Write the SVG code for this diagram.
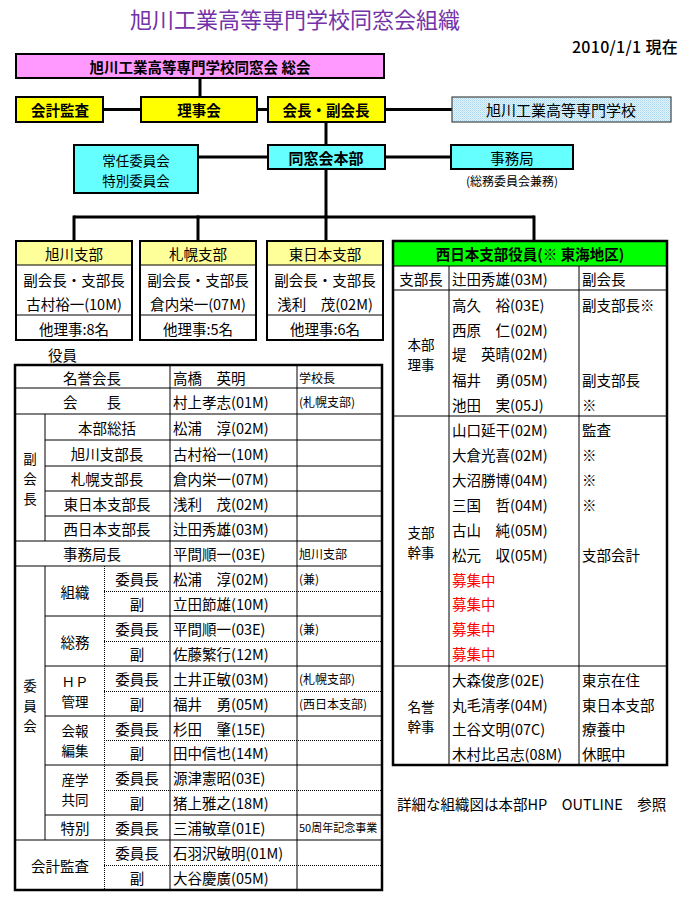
<svg xmlns="http://www.w3.org/2000/svg" width="683" height="902" viewBox="0 0 683 902">
<style>
text{font-family:"Noto Sans CJK JP","Liberation Sans",sans-serif;font-size:14.5px;dominant-baseline:central;fill:#000}
.c{text-anchor:middle}
.e{text-anchor:end}
.b{font-weight:bold}
.s{font-size:12px}
.xs{font-size:11px}
.st{font-size:13.5px}
.red{fill:#FF0000}
.box{stroke:#000;stroke-width:2}
.conn{stroke:#000;stroke-width:3;fill:none}
.ln{stroke:#000;stroke-width:1;fill:none}
.dot{stroke:#000;stroke-width:1;stroke-dasharray:1 1;fill:none}
.frame{stroke:#000;stroke-width:2.5;fill:none}
</style>
<defs>
<pattern id="stip" width="2" height="2" patternUnits="userSpaceOnUse">
<rect width="2" height="2" fill="#E4F4FC"/>
<rect width="1" height="1" fill="#A8D4EC"/>
<rect x="1" y="1" width="1" height="1" fill="#C4E4F4"/>
</pattern>
</defs>
<rect width="683" height="902" fill="#fff"/>
<text x="295" y="18" class="c" style="font-size:22px;fill:#7432A8">旭川工業高等専門学校同窓会組織</text>
<text x="678" y="46" class="e" style="font-size:16px;font-weight:500;letter-spacing:0.3px">2010/1/1 現在</text>

<g id="connectors">
<line class="conn" x1="200" y1="78" x2="200" y2="97"/>
<line class="conn" x1="104" y1="109.5" x2="452" y2="109.5"/>
<line class="conn" x1="326" y1="122" x2="326" y2="144"/>
<line class="conn" x1="198" y1="157" x2="451" y2="157"/>
<line class="conn" x1="326" y1="169" x2="326" y2="217"/>
<line class="conn" x1="74" y1="217" x2="534" y2="217"/>
<line class="conn" x1="74" y1="215.5" x2="74" y2="241"/>
<line class="conn" x1="198" y1="215.5" x2="198" y2="241"/>
<line class="conn" x1="326" y1="215.5" x2="326" y2="241"/>
<line class="conn" x1="534" y1="215.5" x2="534" y2="241"/>
</g>

<g id="soukai">
<rect class="box" x="16" y="54" width="368" height="24" fill="#FF99FF"/>
<text x="200" y="66" class="c b">旭川工業高等専門学校同窓会 総会</text>
</g>
<g id="kaikei">
<rect class="box" x="16" y="97" width="87" height="25" fill="#FFFF00"/>
<text x="60" y="109.5" class="c b">会計監査</text>
</g>
<g id="rijikai">
<rect class="box" x="141" y="97" width="116" height="25" fill="#FFFF00"/>
<text x="199" y="109.5" class="c b">理事会</text>
</g>
<g id="kaicho">
<rect class="box" x="268" y="97" width="117" height="25" fill="#FFFF00"/>
<text x="326" y="109.5" class="c b">会長・副会長</text>
</g>
<g id="gakko">
<rect x="452" y="97" width="219" height="25" fill="url(#stip)" stroke="#444" stroke-width="1.2"/>
<text x="561" y="109.5" class="c" style="font-size:15px">旭川工業高等専門学校</text>
</g>
<g id="jonin">
<rect class="box" x="74" y="145" width="124" height="48" fill="#66FFFF"/>
<text x="136" y="159.5" class="c st">常任委員会</text>
<text x="136" y="179.5" class="c st">特別委員会</text>
</g>
<g id="honbu">
<rect class="box" x="268" y="145" width="117" height="24" fill="#66FFFF"/>
<text x="326" y="157" class="c b" style="font-size:15px">同窓会本部</text>
</g>
<g id="jimukyoku">
<rect class="box" x="451" y="145" width="122" height="24" fill="#66FFFF"/>
<text x="512" y="157" class="c">事務局</text>
<text x="512" y="180" class="c s">(総務委員会兼務)</text>
</g>

<g id="asahikawa">
<rect x="16" y="241" width="116" height="24" fill="#FFFF99"/>
<rect x="16" y="265" width="116" height="75" fill="#fff"/>
<line class="ln" x1="16" y1="265" x2="132" y2="265"/>
<line class="ln" x1="16" y1="315" x2="132" y2="315"/>
<rect class="box" x="16" y="241" width="116" height="99" fill="none"/>
<text x="74" y="253" class="c">旭川支部</text>
<text x="74" y="279" class="c">副会長・支部長</text>
<text x="74" y="303" class="c">古村裕一(10M)</text>
<text x="74" y="328" class="c">他理事:8名</text>
</g>
<g id="sapporo">
<rect x="140" y="241" width="116" height="24" fill="#FFFF99"/>
<rect x="140" y="265" width="116" height="75" fill="#fff"/>
<line class="ln" x1="140" y1="265" x2="256" y2="265"/>
<line class="ln" x1="140" y1="315" x2="256" y2="315"/>
<rect class="box" x="140" y="241" width="116" height="99" fill="none"/>
<text x="198" y="253" class="c">札幌支部</text>
<text x="198" y="279" class="c">副会長・支部長</text>
<text x="198" y="303" class="c">倉内栄一(07M)</text>
<text x="198" y="328" class="c">他理事:5名</text>
</g>
<g id="higashinihon">
<rect x="267" y="241" width="116" height="24" fill="#FFFF99"/>
<rect x="267" y="265" width="116" height="75" fill="#fff"/>
<line class="ln" x1="267" y1="265" x2="383" y2="265"/>
<line class="ln" x1="267" y1="315" x2="383" y2="315"/>
<rect class="box" x="267" y="241" width="116" height="99" fill="none"/>
<text x="325" y="253" class="c">東日本支部</text>
<text x="325" y="279" class="c">副会長・支部長</text>
<text x="325" y="303" class="c">浅利　茂(02M)</text>
<text x="325" y="328" class="c">他理事:6名</text>
</g>

<g id="nishinihon">
<rect x="393" y="241" width="274" height="25" fill="#00FF00"/>
<rect x="393" y="266" width="274" height="499" fill="#fff"/>
<line class="ln" x1="393" y1="266" x2="667" y2="266"/>
<line class="ln" x1="393" y1="290" x2="667" y2="290"/>
<line class="ln" x1="393" y1="416" x2="667" y2="416"/>
<line class="ln" x1="393" y1="666" x2="667" y2="666"/>
<line class="ln" x1="449" y1="266" x2="449" y2="765"/>
<line class="ln" x1="579" y1="266" x2="579" y2="765"/>
<rect class="frame" x="393" y="241" width="274" height="524"/>
<text x="530" y="253.5" class="c b">西日本支部役員(※ 東海地区)</text>
<text x="421" y="278" class="c">支部長</text>
<text x="452" y="278">辻田秀雄(03M)</text>
<text x="582" y="278">副会長</text>
<text x="421" y="343.5" class="c st">本部</text>
<text x="421" y="363.5" class="c st">理事</text>
<text x="452" y="304">高久　裕(03E)</text>
<text x="582" y="304">副支部長※</text>
<text x="452" y="329">西原　仁(02M)</text>
<text x="452" y="353">堤　英晴(02M)</text>
<text x="452" y="379">福井　勇(05M)</text>
<text x="582" y="379">副支部長</text>
<text x="452" y="404">池田　実(05J)</text>
<text x="582" y="404">※</text>
<text x="421" y="531.5" class="c st">支部</text>
<text x="421" y="551.5" class="c st">幹事</text>
<text x="452" y="429">山口延干(02M)</text>
<text x="582" y="429">監査</text>
<text x="452" y="454">大倉光喜(02M)</text>
<text x="582" y="454">※</text>
<text x="452" y="479">大沼勝博(04M)</text>
<text x="582" y="479">※</text>
<text x="452" y="504">三国　哲(04M)</text>
<text x="582" y="504">※</text>
<text x="452" y="529">古山　純(05M)</text>
<text x="452" y="554">松元　収(05M)</text>
<text x="582" y="554">支部会計</text>
<text x="452" y="579" class="red">募集中</text>
<text x="452" y="603" class="red">募集中</text>
<text x="452" y="628" class="red">募集中</text>
<text x="452" y="653" class="red">募集中</text>
<text x="421" y="706" class="c st">名誉</text>
<text x="421" y="726" class="c st">幹事</text>
<text x="452" y="679">大森俊彦(02E)</text>
<text x="582" y="679">東京在住</text>
<text x="452" y="704">丸毛清孝(04M)</text>
<text x="582" y="704">東日本支部</text>
<text x="452" y="728">土谷文明(07C)</text>
<text x="582" y="728">療養中</text>
<text x="452" y="753">木村比呂志(08M)</text>
<text x="582" y="753">休眠中</text>
</g>

<text x="397" y="803">詳細な組織図は本部HP　OUTLINE　参照</text>

<g id="yakuin">
<text x="48" y="354">役員</text>
<rect x="15" y="365" width="367" height="525" fill="#fff"/>
<line class="ln" x1="15" y1="388" x2="382" y2="388"/>
<line class="ln" x1="15" y1="414" x2="382" y2="414"/>
<line class="ln" x1="45" y1="440" x2="382" y2="440"/>
<line class="ln" x1="45" y1="466" x2="382" y2="466"/>
<line class="ln" x1="45" y1="491" x2="382" y2="491"/>
<line class="ln" x1="45" y1="516" x2="382" y2="516"/>
<line class="ln" x1="15" y1="541" x2="382" y2="541"/>
<line class="ln" x1="15" y1="566" x2="382" y2="566"/>
<line class="ln" x1="45" y1="616" x2="382" y2="616"/>
<line class="ln" x1="45" y1="666" x2="382" y2="666"/>
<line class="ln" x1="45" y1="716" x2="382" y2="716"/>
<line class="ln" x1="45" y1="765" x2="382" y2="765"/>
<line class="ln" x1="45" y1="815" x2="382" y2="815"/>
<line class="ln" x1="15" y1="840" x2="382" y2="840"/>
<line class="dot" x1="104" y1="591.5" x2="382" y2="591.5"/>
<line class="dot" x1="104" y1="641.5" x2="382" y2="641.5"/>
<line class="dot" x1="104" y1="691.5" x2="382" y2="691.5"/>
<line class="dot" x1="104" y1="740.5" x2="382" y2="740.5"/>
<line class="dot" x1="104" y1="790.5" x2="382" y2="790.5"/>
<line class="dot" x1="104" y1="865.5" x2="382" y2="865.5"/>
<line class="ln" x1="45" y1="414" x2="45" y2="541"/>
<line class="ln" x1="45" y1="566" x2="45" y2="840"/>
<line class="dot" x1="104.5" y1="566" x2="104.5" y2="890"/>
<line class="ln" x1="170" y1="365" x2="170" y2="890"/>
<line class="ln" x1="297" y1="365" x2="297" y2="890"/>
<rect class="frame" x="15" y="365" width="367" height="525"/>

<text x="92" y="377" class="c">名誉会長</text>
<text x="173" y="377">高橋　英明</text>
<text x="299" y="377" class="s">学校長</text>
<text x="92" y="401" class="c">会　　長</text>
<text x="173" y="401">村上孝志(01M)</text>
<text x="299" y="401" class="s">(札幌支部)</text>

<text x="30" y="458" class="c st">副</text>
<text x="30" y="478" class="c st">会</text>
<text x="30" y="498" class="c st">長</text>
<text x="107" y="427" class="c">本部総括</text>
<text x="173" y="427">松浦　淳(02M)</text>
<text x="107" y="453" class="c">旭川支部長</text>
<text x="173" y="453">古村裕一(10M)</text>
<text x="107" y="478" class="c">札幌支部長</text>
<text x="173" y="478">倉内栄一(07M)</text>
<text x="107" y="503" class="c">東日本支部長</text>
<text x="173" y="503">浅利　茂(02M)</text>
<text x="107" y="528" class="c">西日本支部長</text>
<text x="173" y="528">辻田秀雄(03M)</text>

<text x="92" y="553" class="c">事務局長</text>
<text x="173" y="553">平間順一(03E)</text>
<text x="299" y="553" class="s">旭川支部</text>

<text x="30" y="685" class="c st">委</text>
<text x="30" y="705" class="c st">員</text>
<text x="30" y="725" class="c st">会</text>

<text x="75" y="591" class="c">組織</text>
<text x="137" y="578" class="c">委員長</text>
<text x="173" y="578">松浦　淳(02M)</text>
<text x="299" y="578" class="s">(兼)</text>
<text x="137" y="603" class="c">副</text>
<text x="173" y="603">立田節雄(10M)</text>

<text x="75" y="641" class="c">総務</text>
<text x="137" y="628" class="c">委員長</text>
<text x="173" y="628">平間順一(03E)</text>
<text x="299" y="628" class="s">(兼)</text>
<text x="137" y="653" class="c">副</text>
<text x="173" y="653">佐藤繁行(12M)</text>

<text x="75" y="681" class="c st">ＨＰ</text>
<text x="75" y="701" class="c st">管理</text>
<text x="137" y="678" class="c">委員長</text>
<text x="173" y="678">土井正敏(03M)</text>
<text x="299" y="678" class="s">(札幌支部)</text>
<text x="137" y="703" class="c">副</text>
<text x="173" y="703">福井　勇(05M)</text>
<text x="299" y="703" class="s">(西日本支部)</text>

<text x="75" y="730" class="c st">会報</text>
<text x="75" y="750" class="c st">編集</text>
<text x="137" y="728" class="c">委員長</text>
<text x="173" y="728">杉田　肇(15E)</text>
<text x="137" y="752" class="c">副</text>
<text x="173" y="752">田中信也(14M)</text>

<text x="75" y="779" class="c st">産学</text>
<text x="75" y="799" class="c st">共同</text>
<text x="137" y="777" class="c">委員長</text>
<text x="173" y="777">源津憲昭(03E)</text>
<text x="137" y="802" class="c">副</text>
<text x="173" y="802">猪上雅之(18M)</text>

<text x="75" y="827" class="c">特別</text>
<text x="137" y="827" class="c">委員長</text>
<text x="173" y="827">三浦敏章(01E)</text>
<text x="299" y="827" class="xs">50周年記念事業</text>

<text x="60" y="865" class="c">会計監査</text>
<text x="137" y="852" class="c">委員長</text>
<text x="173" y="852">石羽沢敏明(01M)</text>
<text x="137" y="877" class="c">副</text>
<text x="173" y="877">大谷慶廣(05M)</text>
</g>
</svg>
